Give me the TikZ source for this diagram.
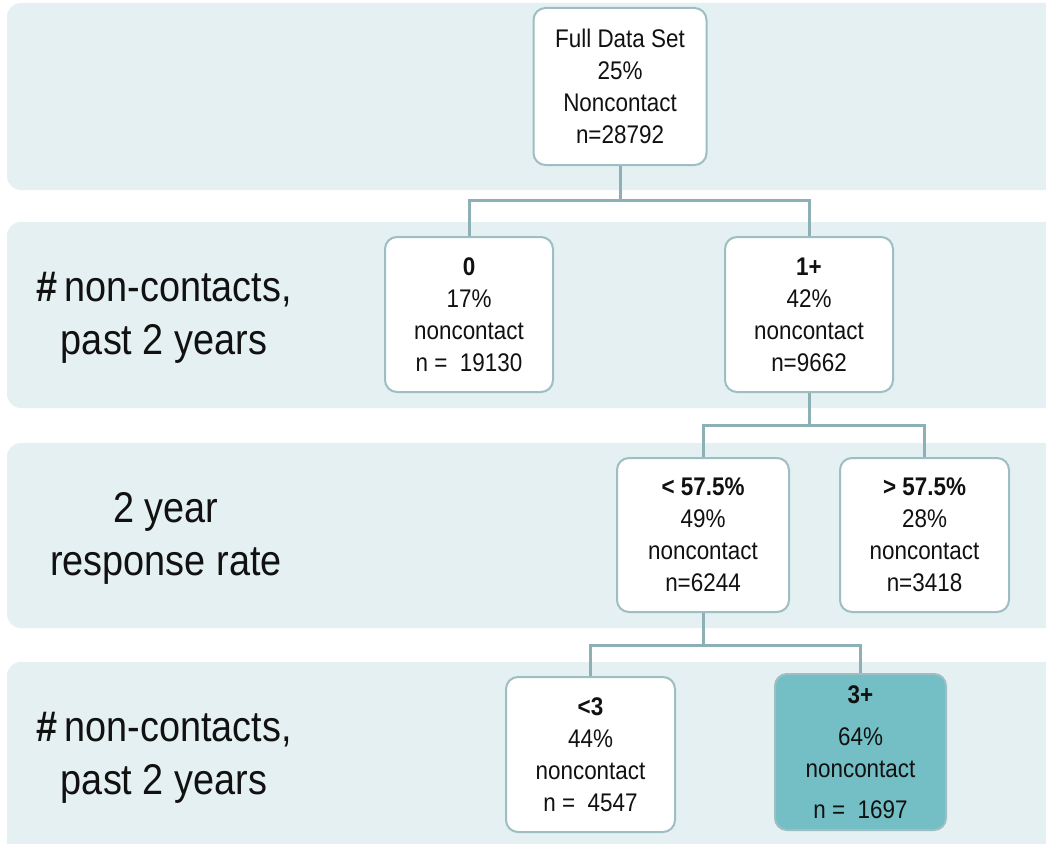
\documentclass[tikz,border=0pt]{standalone}
\usepackage{fontspec}
\setmainfont{Liberation Sans}[FakeStretch=0.88]
\definecolor{band}{HTML}{E5F0F2}
\definecolor{edge}{HTML}{9DBEC3}
\definecolor{conn}{HTML}{8DB0B6}
\definecolor{teal}{HTML}{74BEC5}
\definecolor{ink}{HTML}{111111}
\begin{document}
\begin{tikzpicture}[x=1pt,y=-1pt,
  bandbox/.style={fill=band, draw=none, rounded corners=14pt},
  treebox/.style={draw=edge, line width=2pt, fill=white, rounded corners=12pt,
    align=center, text=ink, inner sep=0pt,
    font=\fontsize{25.5}{32}\selectfont},
  lvl/.style={align=center, text=ink, font=\fontsize{43}{53}\selectfont},
  conline/.style={draw=conn, line width=3pt}]
\useasboundingbox (0,0) rectangle (1046,843);
\clip (0,0) rectangle (1046,843);
\fill[white] (0,0) rectangle (1046,843);
% bands
\path[bandbox] (7,3) rectangle (1070,190);
\path[bandbox] (7,222) rectangle (1070,408);
\path[bandbox] (7,443) rectangle (1070,628);
\path[bandbox] (7,662) rectangle (1070,860);
% level labels
\node[lvl] (l1) at (164,318) {\textbf{\#}\,non-contacts,\\past 2 years};
\node[lvl] (l2) at (166,538) {2 year\\response rate};
\node[lvl] (l3) at (164,758) {\textbf{\#}\,non-contacts,\\past 2 years};
% tree nodes
\node[treebox, minimum width=173pt, minimum height=157pt] (root) at (620,86.5)
  {Full Data Set\\25\%\\Noncontact\\n=28792};
\node[treebox, minimum width=168pt, minimum height=155pt] (n0) at (469,314.5)
  {\textbf{0}\\17\%\\noncontact\\n =\ \ 19130};
\node[treebox, minimum width=168pt, minimum height=155pt] (n1) at (809,314.5)
  {\textbf{1+}\\42\%\\noncontact\\n=9662};
\node[treebox, minimum width=172pt, minimum height=154pt] (nl) at (703,535)
  {\textbf{< 57.5\%}\\49\%\\noncontact\\n=6244};
\node[treebox, minimum width=169pt, minimum height=154pt] (nr) at (924.5,535)
  {\textbf{> 57.5\%}\\28\%\\noncontact\\n=3418};
\node[treebox, minimum width=169pt, minimum height=155pt] (nl3) at (590.5,754.5)
  {\textbf{<3}\\44\%\\noncontact\\n =\ \ 4547};
\node[treebox, fill=teal, minimum width=171pt, minimum height=156pt] (n3p) at (860.5,752)
  {\textbf{3+}\\[10pt]64\%\\noncontact\\[9pt]n =\ \ 1697};
% junctions
\coordinate (j1) at (620,200);
\coordinate (j2) at (809,425);
\coordinate (j3) at (703,645);
% connectors
\draw[conline] (root.south) -- (j1);
\draw[conline] (n0.north) |- (j1) -| (n1.north);
\draw[conline] (n1.south) -- (j2);
\draw[conline] (nl.north) |- (j2) -| (nr.north);
\draw[conline] (nl.south) -- (j3);
\draw[conline] (nl3.north) |- (j3) -| (n3p.north);
\end{tikzpicture}
\end{document}
